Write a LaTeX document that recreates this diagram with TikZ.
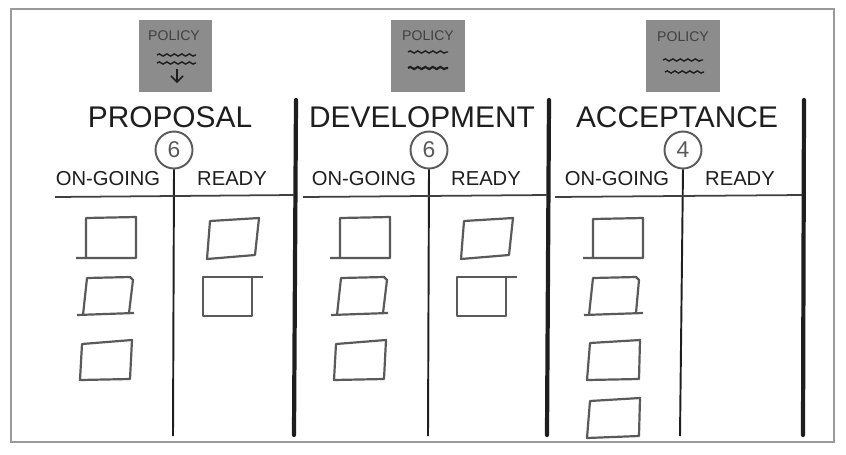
\documentclass[tikz,border=0pt]{standalone}
\usepackage{fontspec}
\setmainfont{Liberation Sans}
\usetikzlibrary{decorations.pathmorphing,arrows.meta}

\definecolor{ink}{HTML}{1E1E1E}
\definecolor{pencil}{HTML}{5A5A5A}
\definecolor{notegray}{HTML}{8C8C8C}
\definecolor{framegray}{HTML}{9A9A9A}

\tikzset{
  title/.style={text=ink, font=\fontsize{17}{17}\selectfont},
  sublabel/.style={text=ink, font=\fontsize{11.5}{12}\selectfont},
  wip/.style={circle, draw=pencil, line width=1.1pt, minimum size=0.74cm, inner sep=0pt, text=pencil, font=\fontsize{13}{13}\selectfont},
  policy/.style={fill=notegray, draw=none, minimum width=1.48cm, minimum height=1.46cm, inner sep=0pt},
  policytext/.style={text=ink!85, font=\fontsize{8}{8}\selectfont},
  wave/.style={ink, line width=0.8pt, decorate, decoration={snake, segment length=1.5mm, amplitude=0.22mm}},
  lane/.style={ink, line width=2.4pt, line cap=round},
  divider/.style={ink, line width=1.1pt},
  rule/.style={ink!85, line width=1pt},
  card/.style={pencil, line width=1.25pt, line join=round},
}

\begin{document}
\begin{tikzpicture}[x=0.02cm, y=-0.02cm]
	%%%%% START %%%%%
	\useasboundingbox (0, 0) rectangle (846, 454);
	\draw[framegray, line width=0.6pt] (11, 9) rectangle (834, 442);

	% policy notes
	\node[policy] (polProposal) at (175.5, 56) {};
	\node[policy] (polDevelopment) at (428, 56) {};
	\node[policy] (polAcceptance) at (683, 56) {};
	\node[policytext] (polProposalText) at (174, 36) {POLICY};
	\node[policytext] (polDevelopmentText) at (428, 36) {POLICY};
	\node[policytext] (polAcceptanceText) at (683, 37) {POLICY};
	\draw[wave] (157, 55) -- (196, 55);
	\draw[wave] (157, 63) -- (196, 63);
	\draw[ink, line width=0.9pt, -{Straight Barb[length=1.2mm]}] (177, 69) -- (177, 83);
	\draw[wave] (408, 52) -- (448, 52);
	\draw[wave, line width=1.2pt] (408, 68) -- (448, 68);
	\draw[wave] (663, 60) -- (703, 60);
	\draw[wave] (665, 72) -- (704, 72);

	% column titles
	\node[title] (proposal) at (170, 117) {PROPOSAL};
	\node[title] (development) at (422, 117) {DEVELOPMENT};
	\node[title] (acceptance) at (677, 117) {ACCEPTANCE};

	% wip limits
	\node[wip] (wipProposal) at (174, 150) {6};
	\node[wip] (wipDevelopment) at (429, 150) {6};
	\node[wip] (wipAcceptance) at (683, 150) {4};

	\node[sublabel] (propOngoing) at (108, 179) {ON-GOING};
	\node[sublabel] (propReady) at (232, 179) {READY};
	\node[sublabel] (devOngoing) at (364, 179) {ON-GOING};
	\node[sublabel] (devReady) at (486, 179) {READY};
	\node[sublabel] (accOngoing) at (617, 179) {ON-GOING};
	\node[sublabel] (accReady) at (740, 179) {READY};

	% lanes
	\draw[lane] (296, 100) -- (294, 435);
	\draw[lane] (549, 100) -- (547, 435);
	\draw[lane] (804, 100) -- (803, 435);

	\coordinate (propEnd) at (173, 436);
	\coordinate (devEnd) at (428, 436);
	\coordinate (accEnd) at (680, 436);
	\draw[divider] (wipProposal.south) -- (propEnd);
	\draw[divider] (wipDevelopment.south) -- (devEnd);
	\draw[divider] (wipAcceptance.south) -- (accEnd);

	\draw[rule] (55, 197) -- (294, 195);
	\draw[rule] (303, 197) -- (547, 195);
	\draw[rule] (555, 197) -- (802, 195);

	% cards
	\foreach \dx in {0, 254} {
		\draw[card] (76+\dx, 258) -- (136+\dx, 258) -- (136+\dx, 217) -- (86+\dx, 218) -- (86+\dx, 258);
		\draw[card] (77+\dx, 315) -- (134+\dx, 313);
		\draw[card] (83+\dx, 315) -- (87+\dx, 278) -- (130+\dx, 277) -- (133+\dx, 280) -- (129+\dx, 313);
		\draw[card] (82+\dx, 344) -- (132+\dx, 340) -- (130+\dx, 379) -- (80+\dx, 380) -- cycle;
		\draw[card] (210+\dx, 221) -- (259+\dx, 218) -- (255+\dx, 255) -- (207+\dx, 259) -- cycle;
		\draw[card] (263+\dx, 277) -- (203+\dx, 277) -- (203+\dx, 316) -- (252+\dx, 316) -- (252+\dx, 277);
	}
	\draw[card] (583, 258) -- (643, 258) -- (643, 218) -- (593, 219) -- (593, 258);
	\draw[card] (584, 315) -- (643, 313);
	\draw[card] (589, 315) -- (593, 278) -- (636, 277) -- (639, 280) -- (636, 313);
	\draw[card] (590, 343) -- (640, 340) -- (639, 379) -- (587, 380) -- cycle;
	\draw[card] (590, 401) -- (640, 398) -- (639, 436) -- (587, 438) -- cycle;
	%%%%% END %%%%%
\end{tikzpicture}
\end{document}
